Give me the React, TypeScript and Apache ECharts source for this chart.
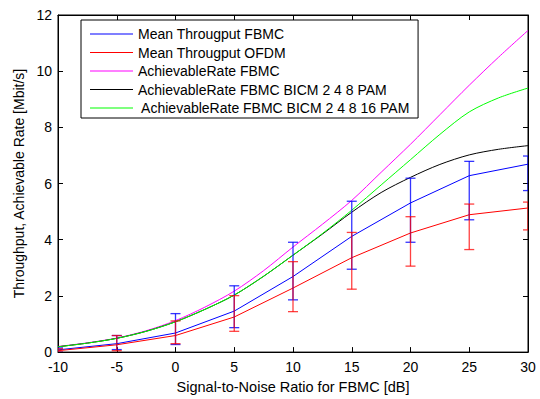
import React, { useEffect, useRef } from "react";
import * as echarts from "echarts";

const snrCoarse = [-10, -5, 0, 5, 10, 15, 20, 25, 30];
const meanFbmc = [0.08, 0.3, 0.68, 1.46, 2.69, 4.12, 5.31, 6.28, 6.69];
const meanOfdm = [0.05, 0.26, 0.59, 1.25, 2.28, 3.36, 4.24, 4.89, 5.13];
const fbmcErrLow = [0.0, 0.09, 0.27, 0.87, 1.86, 2.95, 3.91, 4.71, 5.75];
const fbmcErrHigh = [0.15, 0.59, 1.37, 2.36, 3.91, 5.37, 6.19, 6.79, 6.98];
const ofdmErrLow = [0.0, 0.05, 0.3, 0.74, 1.44, 2.24, 3.06, 3.65, 4.35];
const ofdmErrHigh = [0.12, 0.59, 1.11, 2.01, 3.22, 4.26, 4.82, 5.27, 5.34];

const snrFine = [-10, -7.5, -5, -2.5, 0, 2.5, 5, 7.5, 10, 12.5, 15, 17.5, 20, 22.5, 25, 27.5, 30];
const rateFbmc = [0.2, 0.33, 0.5, 0.76, 1.12, 1.6, 2.17, 2.9, 3.74, 4.55, 5.4, 6.4, 7.4, 8.45, 9.5, 10.5, 11.45];
const rateBicm8 = [0.19, 0.32, 0.49, 0.74, 1.08, 1.52, 2.03, 2.7, 3.45, 4.2, 4.98, 5.68, 6.22, 6.68, 7.02, 7.22, 7.35];
const rateBicm16 = [0.19, 0.32, 0.49, 0.74, 1.08, 1.52, 2.03, 2.7, 3.45, 4.22, 5.05, 5.95, 6.85, 7.75, 8.55, 9.05, 9.4];

const seriesNames = [
  "Mean Througput FBMC",
  "Mean Througput OFDM",
  "AchievableRate FBMC",
  "AchievableRate FBMC BICM 2 4 8 PAM",
  " AchievableRate FBMC BICM 2 4 8 16 PAM",
];

const FONT = "'Liberation Sans', Arial, sans-serif";

const zip = (xs: number[], ys: number[]) => xs.map((x, i) => [x, ys[i]]);

function errorSeries(low: number[], high: number[], color: string, opacity: number) {
  return {
    type: "custom",
    xAxisIndex: 0,
    yAxisIndex: 0,
    clip: true,
    silent: true,
    z: 3,
    encode: { x: 0, y: [1, 2] },
    data: snrCoarse.map((x, i) => [x, low[i], high[i]]),
    renderItem: (params: any, api: any) => {
      const x = api.value(0);
      const lo = api.coord([x, api.value(1)]);
      const hi = api.coord([x, api.value(2)]);
      const w = 5;
      const style = { stroke: color, lineWidth: 1.3, opacity };
      return {
        type: "group",
        children: [
          { type: "line", shape: { x1: lo[0], y1: lo[1], x2: hi[0], y2: hi[1] }, style },
          { type: "line", shape: { x1: lo[0] - w, y1: lo[1], x2: lo[0] + w, y2: lo[1] }, style },
          { type: "line", shape: { x1: hi[0] - w, y1: hi[1], x2: hi[0] + w, y2: hi[1] }, style },
        ],
      };
    },
  };
}

export default function App() {
  const ref = useRef<HTMLDivElement>(null);
  useEffect(() => {
    if (!ref.current) return;
    const chart = echarts.init(ref.current, undefined, { renderer: "svg" });
    const axisCommon = {
      axisLine: { show: true, onZero: false, lineStyle: { color: "#000", width: 1 } },
      axisTick: { show: true, inside: true, length: 5, lineStyle: { color: "#000" } },
      splitLine: { show: false },
    };
    const lineSeries = (name: string, data: number[][], color: string, smooth: boolean) => ({
      name,
      type: "line",
      data,
      xAxisIndex: 0,
      yAxisIndex: 0,
      symbol: "none",
      smooth: smooth ? 0.3 : false,
      lineStyle: { color, width: 1 },
      itemStyle: { color },
      z: 2,
    });
    chart.setOption({
      animation: false,
      backgroundColor: "#fff",
      grid: { left: 58, right: 12, top: 15, bottom: 40, show: true, borderColor: "#000", borderWidth: 1, backgroundColor: "#fff" },
      textStyle: { fontFamily: FONT },
      legend: {
        data: seriesNames,
        orient: "vertical",
        left: 81,
        top: 20,
        icon: "path://M0,0 L43,0 L43,1.2 L0,1.2 Z",
        symbolKeepAspect: true,
        itemWidth: 43,
        itemHeight: 14,
        itemGap: 4.5,
        padding: [7, 8, 3, 9],
        borderColor: "#000",
        borderWidth: 1,
        backgroundColor: "#fff",
        textStyle: { fontSize: 14, color: "#000", fontFamily: FONT },
        selectedMode: false,
        z: 10,
      },
      xAxis: [
        {
          type: "value",
          min: -10,
          max: 30,
          interval: 5,
          position: "bottom",
          name: "Signal-to-Noise Ratio for FBMC [dB]",
          nameLocation: "middle",
          nameGap: 21,
          nameTextStyle: { fontSize: 14.5, color: "#000", fontFamily: FONT },
          axisLabel: { fontSize: 14, color: "#000", margin: 8, fontFamily: FONT },
          ...axisCommon,
        },
        {
          type: "value",
          min: -10,
          max: 30,
          interval: 5,
          position: "top",
          axisLabel: { show: false },
          ...axisCommon,
        },
      ],
      yAxis: [
        {
          type: "value",
          min: 0,
          max: 12,
          interval: 2,
          position: "left",
          name: "Throughput, Achievable Rate [Mbit/s]",
          nameLocation: "middle",
          nameGap: 29,
          nameTextStyle: { fontSize: 14, color: "#000", fontFamily: FONT },
          axisLabel: { fontSize: 14, color: "#000", margin: 6, fontFamily: FONT },
          ...axisCommon,
        },
        {
          type: "value",
          min: 0,
          max: 12,
          interval: 2,
          position: "right",
          axisLabel: { show: false },
          ...axisCommon,
        },
      ],
      series: [
        lineSeries(seriesNames[0], zip(snrCoarse, meanFbmc), "#0000ff", false),
        lineSeries(seriesNames[1], zip(snrCoarse, meanOfdm), "#ff0000", false),
        lineSeries(seriesNames[2], zip(snrFine, rateFbmc), "#ff00ff", true),
        lineSeries(seriesNames[3], zip(snrFine, rateBicm8), "#000000", true),
        lineSeries(seriesNames[4], zip(snrFine, rateBicm16), "#00ff00", true),
        errorSeries(fbmcErrLow, fbmcErrHigh, "#0000ff", 0.8),
        errorSeries(ofdmErrLow, ofdmErrHigh, "#ff0000", 0.75),
      ],
    });
    return () => chart.dispose();
  }, []);
  return (
    <div
      ref={ref}
      style={{ position: "fixed", left: 0, top: 0, width: 540, height: 399, background: "#fff" }}
    />
  );
}
